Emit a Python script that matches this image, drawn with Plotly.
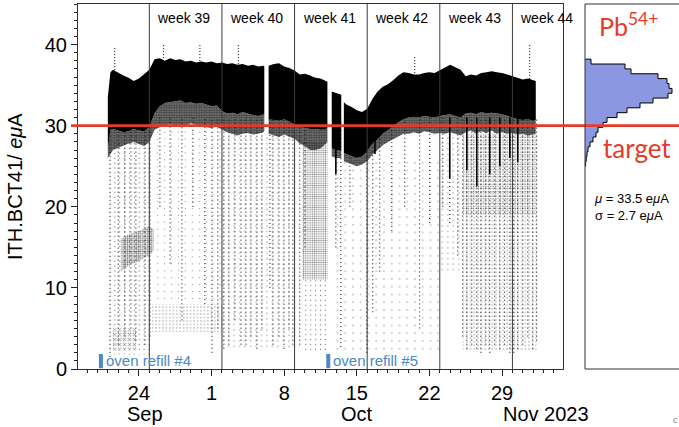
import plotly.graph_objects as go

# ---- dense beam band, read every half day off the plot (None = beam gap)
band_time = [
    "2023-09-21 00:00", "2023-09-21 06:00", "2023-09-21 12:00", "2023-09-22 00:00", "2023-09-22 12:00",
    "2023-09-23 00:00", "2023-09-23 12:00", "2023-09-24 00:00", "2023-09-24 12:00", "2023-09-25 00:00",
    "2023-09-25 12:00", "2023-09-26 00:00", "2023-09-26 12:00", "2023-09-27 00:00", "2023-09-27 12:00",
    "2023-09-28 00:00", "2023-09-28 12:00", "2023-09-29 00:00", "2023-09-29 12:00", "2023-09-30 00:00",
    "2023-09-30 12:00", "2023-10-01 00:00", "2023-10-01 12:00", "2023-10-02 00:00", "2023-10-02 12:00",
    "2023-10-03 00:00", "2023-10-03 12:00", "2023-10-04 00:00", "2023-10-04 12:00", "2023-10-05 00:00",
    "2023-10-05 12:00", "2023-10-06 00:00", "2023-10-06 02:00", None,
    "2023-10-06 12:00", "2023-10-07 00:00", "2023-10-07 12:00", "2023-10-08 00:00", "2023-10-08 12:00",
    "2023-10-09 00:00", "2023-10-09 12:00", "2023-10-10 00:00", "2023-10-10 12:00", "2023-10-11 00:00",
    "2023-10-11 12:00", "2023-10-12 00:00", "2023-10-12 04:00", None,
    "2023-10-12 14:00", "2023-10-13 00:00", "2023-10-13 12:00", None,
    "2023-10-13 18:00", "2023-10-14 00:00", "2023-10-14 12:00", "2023-10-15 00:00", "2023-10-15 12:00",
    "2023-10-16 00:00", "2023-10-16 12:00", "2023-10-17 00:00", "2023-10-17 12:00", "2023-10-18 00:00",
    "2023-10-18 12:00", "2023-10-19 00:00", "2023-10-19 12:00", "2023-10-20 00:00", "2023-10-20 12:00",
    "2023-10-21 00:00", "2023-10-21 12:00", "2023-10-22 00:00", "2023-10-22 12:00", "2023-10-23 00:00",
    "2023-10-23 12:00", "2023-10-24 00:00", "2023-10-24 12:00", "2023-10-25 00:00", "2023-10-25 12:00",
    "2023-10-26 00:00", "2023-10-26 12:00", "2023-10-27 00:00", "2023-10-27 12:00", "2023-10-28 00:00",
    "2023-10-28 12:00", "2023-10-29 00:00", "2023-10-29 12:00", "2023-10-30 00:00", "2023-10-30 12:00",
    "2023-10-31 00:00", "2023-10-31 12:00", "2023-11-01 00:00", "2023-11-01 06:00",
]
band_hi = [
    33.5, 36.6, 36.9, 36.5, 36.2, 35.9, 35.5, 35.8, 36.4, 36.9,
    38.2, 38.3, 38.0, 38.3, 38.1, 38.2, 37.9, 38.0, 37.8, 37.9,
    37.8, 37.9, 37.7, 37.8, 37.6, 37.7, 37.5, 37.6, 37.4, 37.5,
    37.3, 37.4, 37.3, None,
    37.4, 37.6, 37.7, 37.3, 37.1, 36.8, 36.3, 36.4, 36.2, 35.9,
    35.8, 35.5, 35.4, None,
    34.2, 34.0, 33.8, None,
    32.9, 32.6, 32.3, 31.9, 31.7, 32.1, 33.3, 34.2, 34.8, 35.1,
    35.6, 36.2, 36.6, 36.5, 36.3, 36.3, 36.5, 36.6, 36.5, 36.8,
    37.1, 37.5, 37.2, 36.9, 36.1, 36.3, 36.2, 36.5, 36.6, 36.7,
    36.6, 36.5, 36.3, 36.1, 35.9, 35.7, 35.8, 35.6, 35.5,
]
band_lo = [
    27.0, 29.5, 29.6, 29.4, 29.2, 29.3, 29.6, 29.4, 29.3, 29.8,
    31.5, 32.4, 32.8, 32.9, 33.0, 33.1, 32.8, 32.9, 32.7, 32.8,
    32.6, 32.4, 32.5, 31.8, 31.5, 31.6, 31.4, 31.7, 31.5, 31.3,
    31.2, 31.4, 31.5, None,
    30.8, 30.7, 30.6, 30.8, 30.5, 30.2, 29.9, 29.7, 29.6, 29.6,
    29.5, 29.6, 29.7, None,
    27.2, 27.0, 27.0, None,
    26.6, 26.5, 26.3, 26.0, 26.2, 26.8, 27.8, 28.3, 29.0, 29.5,
    29.9, 30.4, 30.8, 31.0, 31.1, 31.0, 31.2, 31.1, 31.0, 31.2,
    31.3, 31.4, 31.2, 31.0, 31.5, 31.6, 31.4, 31.7, 31.5, 31.6,
    31.5, 31.4, 31.2, 31.0, 30.8, 30.7, 30.8, 30.6, 30.7,
]
band_edge = [
    26.0, 26.5, 27.0, 27.2, 27.5, 27.8, 28.0, 27.8, 27.5, 28.0,
    29.5, 29.8, 30.0, 30.2, 30.0, 29.8, 29.9, 30.3, 30.1, 30.0,
    29.8, 29.7, 29.9, 29.5, 29.2, 29.0, 28.8, 29.0, 29.1, 28.9,
    29.0, 29.2, 29.3, None,
    29.0, 28.8, 28.6, 28.9, 28.7, 28.4, 27.8, 27.5, 27.0, 27.0,
    27.2, 27.8, 28.0, None,
    26.2, 26.0, 26.0, None,
    25.6, 25.5, 25.3, 25.0, 25.2, 25.6, 26.4, 27.0, 27.6, 28.0,
    28.3, 28.7, 29.0, 29.0, 29.2, 29.0, 29.3, 29.2, 29.0, 29.1,
    29.0, 29.2, 29.0, 28.8, 29.2, 29.4, 29.0, 29.3, 29.1, 29.4,
    29.0, 29.2, 29.0, 29.1, 28.9, 29.0, 28.8, 28.9, 29.0,
]

# ---- sparse vertical streaks of points below the band (time, lowest value)
streak_time = [
    "2023-09-21 05:00", "2023-09-22 00:00", "2023-09-22 15:30", "2023-09-23 05:30", "2023-09-23 17:00", "2023-09-24 14:00",
    "2023-09-25 01:30", "2023-09-26 00:30", "2023-09-27 00:00", "2023-09-28 03:30", "2023-09-29 05:00", "2023-09-30 08:30",
    "2023-10-01 01:00", "2023-10-01 14:30", "2023-10-02 04:30", "2023-10-02 16:00", "2023-10-03 06:00", "2023-10-03 20:00",
    "2023-10-04 07:30", "2023-10-04 19:00", "2023-10-05 09:00", "2023-10-05 20:30", "2023-10-06 15:00", "2023-10-06 22:00",
    "2023-10-07 12:00", "2023-10-07 23:30", "2023-10-08 11:00", "2023-10-08 20:00", "2023-10-09 12:00", "2023-10-10 00:00",
    "2023-10-12 23:30", "2023-10-13 11:00", "2023-10-14 08:00", "2023-10-15 23:00", "2023-10-16 13:00", "2023-10-17 05:00",
    "2023-10-18 09:00", "2023-10-19 15:00", "2023-10-21 01:30", "2023-10-22 00:45", "2023-10-23 07:00", "2023-10-23 23:00",
    "2023-10-24 17:30", "2023-10-25 05:00", "2023-10-25 14:30", "2023-10-26 02:00", "2023-10-26 13:30", "2023-10-26 23:00",
    "2023-10-27 10:30", "2023-10-27 19:30", "2023-10-28 07:00", "2023-10-28 18:45", "2023-10-29 06:00", "2023-10-29 18:00",
    "2023-10-30 03:00", "2023-10-30 12:15", "2023-10-31 00:00", "2023-10-31 11:30", "2023-10-31 23:00", "2023-11-01 08:00",
]
streak_low = [
    1.5, 3.0, 4.0, 5.0, 3.5, 3.0,
    4.0, 20.0, 13.0, 6.0, 20.0, 8.0,
    2.0, 5.0, 2.5, 3.0, 6.0, 3.0,
    3.0, 4.0, 2.5, 5.0, 10.0, 3.0,
    4.0, 2.5, 5.0, 3.0, 3.0, 15.0,
    15.0, 2.7, 20.0, 2.0, 7.0, 12.0,
    17.0, 20.0, 5.0, 18.0, 20.0, 18.0,
    14.0, 4.0, 2.5, 3.0, 2.5, 2.0,
    3.0, 2.0, 3.0, 2.5, 3.0, 2.0,
    2.0, 2.5, 3.0, 4.0, 2.5, 3.5,
]

# heavy dark drops below the band
drop_time = ["2023-10-12 23:30", "2023-10-16 18:00", "2023-10-23 23:00", "2023-10-25 14:30",
             "2023-10-26 13:30", "2023-10-27 19:30", "2023-10-28 18:45", "2023-10-29 18:00", "2023-10-30 12:15"]
drop_low = [24.0, 26.5, 23.5, 24.5, 22.5, 24.0, 25.0, 26.0, 25.5]

# single points above the band
spike_time = ["2023-09-21 16:00", "2023-09-26 09:00", "2023-09-29 21:00", "2023-10-03 14:00",
              "2023-10-20 14:00", "2023-10-31 16:00"]
spike_top = [39.6, 40.0, 40.1, 40.0, 38.6, 40.2]

# clouds of scattered points: start, end, low, high, point density
cloud_start = ["2023-09-21 05:00", "2023-09-21 12:00", "2023-09-25 06:00", "2023-09-25 06:00", "2023-10-02 00:00",
               "2023-10-09 18:00", "2023-10-09 18:00", "2023-10-12 14:00", "2023-10-23 00:00", "2023-10-25 06:00",
               "2023-10-25 06:00"]
cloud_end = ["2023-09-25 06:00", "2023-09-23 18:00", "2023-10-02 00:00", "2023-10-02 00:00", "2023-10-09 12:00",
             "2023-10-12 04:00", "2023-10-12 04:00", "2023-10-23 00:00", "2023-10-25 06:00", "2023-11-01 08:00",
             "2023-11-01 08:00"]
cloud_low = [1.8, 2.3, 4.5, 8.0, 2.5, 11.0, 2.0, 2.0, 12.0, 2.3, 19.0]
cloud_high = [28.0, 5.0, 8.0, 30.0, 29.0, 28.0, 11.0, 26.0, 29.0, 29.0, 29.0]
cloud_density = [0.05, 0.2, 0.1, 0.025, 0.04, 0.35, 0.05, 0.02, 0.04, 0.09, 0.2]

# the denser cluster near 15 eμA before week 39
cluster_time = ["2023-09-22 06:00", "2023-09-23 00:00", "2023-09-24 00:00", "2023-09-25 00:00", "2023-09-25 10:00"]
cluster_lo = [12.0, 12.8, 13.3, 14.0, 14.6]
cluster_hi = [16.0, 16.6, 17.0, 17.6, 17.2]

# ---- histogram of the beam current (bins of 0.6 eμA)
hist_center = [37.9, 37.3, 36.7, 36.1, 35.5, 34.9, 34.3, 33.7, 33.1, 32.5, 31.9,
               31.3, 30.7, 30.1, 29.5, 28.9, 28.3, 27.7, 27.1, 26.5, 25.9, 25.3]
hist_count = [6, 40, 46, 73, 82, 84, 87, 83, 68, 55, 42,
              32, 22, 18, 13, 11, 8, 5, 3, 2, 1.2, 0.6]

week_start = ["2023-09-25", "2023-10-02", "2023-10-09", "2023-10-16", "2023-10-23", "2023-10-30"]
week_label = ["week 39", "week 40", "week 41", "week 42", "week 43", "week 44"]
refill_time = ["2023-09-20 08:00", "2023-10-12 06:00"]
refill_label = ["oven refill #4", "oven refill #5"]

tick_dates = ["2023-09-24", "2023-10-01", "2023-10-08", "2023-10-15", "2023-10-22", "2023-10-29"]
tick_text = ["24", "1", "8", "15", "22", "29"]
month_text = ["Sep", "Oct", "Nov 2023"]
month_pos = ["2023-09-24 14:00", "2023-10-15", "2023-11-02 05:00"]

target = 30
mu, sigma = 33.5, 2.7

FONT = "Liberation Sans, Arial, sans-serif"
RED = "#e43b2b"
BLUE = "#4a88c7"

fig = go.Figure()


def area(t, lo, hi, **kw):
    t = list(t)
    fig.add_trace(go.Scatter(x=t + t[::-1], y=list(hi) + list(lo)[::-1], fill="toself",
                             mode="lines", line=dict(width=0), hoverinfo="skip",
                             showlegend=False, **kw))


def dots(d):
    size = max(2.2, (1.2 / d) ** 0.5)
    return dict(shape=".", fgcolor="black", bgcolor="rgba(0,0,0,0)", size=size, solidity=d)


for s, e, lo, hi, d in zip(cloud_start, cloud_end, cloud_low, cloud_high, cloud_density):
    area([s, e], [lo, lo], [hi, hi], fillcolor="rgba(0,0,0,0)", fillpattern=dots(d))
area(cluster_time, cluster_lo, cluster_hi, fillcolor="rgba(0,0,0,0)", fillpattern=dots(0.45))

sx, sy = [], []
for t, lo in zip(streak_time, streak_low):
    sx += [t, t, None]
    sy += [lo, 31, None]
fig.add_trace(go.Scatter(x=sx, y=sy, mode="lines", hoverinfo="skip", showlegend=False,
                         line=dict(color="black", width=1, dash="1px,3px")))

dx, dy = [], []
for t, lo in zip(drop_time, drop_low):
    dx += [t, t, None]
    dy += [lo, 31, None]
fig.add_trace(go.Scatter(x=dx, y=dy, mode="lines", hoverinfo="skip", showlegend=False,
                         line=dict(color="black", width=1.6)))

px_, py_ = [], []
for t, top in zip(spike_time, spike_top):
    px_ += [t, t, None]
    py_ += [35, top, None]
fig.add_trace(go.Scatter(x=px_, y=py_, mode="lines", hoverinfo="skip", showlegend=False,
                         line=dict(color="black", width=1, dash="1px,2px")))

# split the band into its continuous pieces
seg = []
for row in list(zip(band_time, band_hi, band_lo, band_edge)) + [(None, None, None, None)]:
    if row[0] is None:
        if seg:
            t, hi, lo, ed = zip(*seg)
            area(t, ed, lo, fillcolor="rgba(0,0,0,0)",
                 fillpattern=dict(shape=".", fgcolor="black", bgcolor="rgba(0,0,0,0.5)",
                                  size=2.5, solidity=0.6))
            area(t, lo, hi, fillcolor="black", line_color="black")
        seg = []
    else:
        seg.append(row)

# histogram outline as a staircase
hx, hy = [0], [hist_center[0] + 0.3]
for c, n in zip(hist_center, hist_count):
    hx += [n, n]
    hy += [c + 0.3, c - 0.3]
hx += [0]
hy += [hist_center[-1] - 0.3]
fig.add_trace(go.Scatter(x=hx, y=hy, xaxis="x2", yaxis="y2", fill="toself", fillcolor="#8c97e2",
                         mode="lines", line=dict(color="black", width=1), hoverinfo="skip",
                         showlegend=False))

for t in refill_time:
    fig.add_trace(go.Scatter(x=[t, t], y=[0.1, 1.85], mode="lines", showlegend=False,
                             hoverinfo="skip", line=dict(color=BLUE, width=4)))

shapes = []
for w in week_start:
    shapes.append(dict(type="line", xref="x", yref="paper", x0=w, x1=w, y0=0, y1=1,
                       line=dict(color="#3c3c3c", width=1), layer="above"))
shapes.append(dict(type="line", xref="paper", yref="y", x0=-0.0116, x1=1.0, y0=target, y1=target,
                   line=dict(color=RED, width=2.6), layer="above"))
X2 = 0.8436
shapes += [
    dict(type="line", xref="paper", yref="paper", x0=X2, x1=X2, y0=0, y1=1, line=dict(color="#333", width=1)),
    dict(type="line", xref="paper", yref="paper", x0=X2, x1=1.05, y0=1, y1=1, line=dict(color="#333", width=1)),
    dict(type="line", xref="paper", yref="paper", x0=X2, x1=1.05, y0=0, y1=0, line=dict(color="#333", width=1)),
]

ann = []
for w, lab in zip(week_start, week_label):
    ann.append(dict(x=w, y=0.9616, xref="x", yref="paper", text=lab, showarrow=False,
                    xanchor="left", yanchor="middle", xshift=6,
                    font=dict(family=FONT, size=14, color="black")))
for t, lab in zip(refill_time, refill_label):
    ann.append(dict(x=t, y=1.1, xref="x", yref="y", text=lab, showarrow=False,
                    xanchor="left", yanchor="middle", xshift=3,
                    font=dict(family=FONT, size=15, color=BLUE)))
for t, lab in zip(month_pos, month_text):
    ann.append(dict(x=t, y=-0.124, xref="x", yref="paper", text=lab, showarrow=False,
                    xanchor="center", yanchor="middle",
                    font=dict(family=FONT, size=20, color="black")))
ann += [
    dict(x=-0.1057, y=0.5, xref="paper", yref="paper", text="ITH.BCT41/ <i>eμ</i>A",
         textangle=-90, showarrow=False, xanchor="center", yanchor="middle",
         font=dict(family=FONT, size=20, color="black")),
    dict(x=0.9168, y=0.9425, xref="paper", yref="paper", text="Pb<sup>54+</sup>",
         showarrow=False, xanchor="center", yanchor="middle",
         font=dict(family="Lato, sans-serif", size=25, color=RED)),
    dict(x=0.930, y=0.6055, xref="paper", yref="paper", text="target",
         showarrow=False, xanchor="center", yanchor="middle",
         font=dict(family="Lato, sans-serif", size=26, color=RED)),
    dict(x=0.855, y=0.444, xref="paper", yref="paper", xanchor="left", yanchor="middle", align="left",
         text=f"<i>μ</i> = {mu} e<i>μ</i>A<br>σ = {sigma} e<i>μ</i>A",
         showarrow=False, font=dict(family=FONT, size=13, color="black")),
    dict(x=0.987, y=-0.14, xref="paper", yref="paper", text="c", xanchor="left", yanchor="middle",
         showarrow=False, font=dict(family=FONT, size=9, color="#777")),
]

minor_days = [f"2023-09-{d:02d}" for d in range(19, 31)] + \
             [f"2023-10-{d:02d}" for d in range(1, 32)] + \
             [f"2023-11-{d:02d}" for d in range(1, 4)]

fig.update_layout(
    width=679, height=427,
    margin=dict(l=78, r=0, t=4, b=58),
    paper_bgcolor="white", plot_bgcolor="white",
    font=dict(family=FONT, size=20, color="black"),
    showlegend=False,
    shapes=shapes, annotations=ann,
    xaxis=dict(domain=[0, 0.807], type="date", range=["2023-09-18 03:00", "2023-11-03 21:00"],
               tickmode="array", tickvals=tick_dates, ticktext=tick_text,
               ticks="outside", ticklen=6, tickwidth=1, tickcolor="#222",
               minor=dict(tickmode="array", tickvals=minor_days, ticks="outside", ticklen=3,
                          tickwidth=1, tickcolor="#222"),
               showline=True, linecolor="#333", linewidth=1, mirror=True,
               showgrid=False, zeroline=False, tickfont=dict(size=20), anchor="y"),
    yaxis=dict(domain=[0, 1], range=[0, 45], tickvals=[0, 10, 20, 30, 40],
               ticks="outside", ticklen=6, tickwidth=1, tickcolor="#222",
               minor=dict(dtick=1, ticks="outside", ticklen=3, tickwidth=1, tickcolor="#222"),
               showline=True, linecolor="#333", linewidth=1, mirror=True,
               showgrid=False, zeroline=False, tickfont=dict(size=20), anchor="x"),
    xaxis2=dict(domain=[X2, 1], range=[0, 94], visible=False, anchor="y2"),
    yaxis2=dict(domain=[0, 1], range=[0, 45], visible=False, anchor="x2"),
)

fig.write_html("out.html", config={"displayModeBar": False},
               post_script="document.body.style.margin='0px';")
